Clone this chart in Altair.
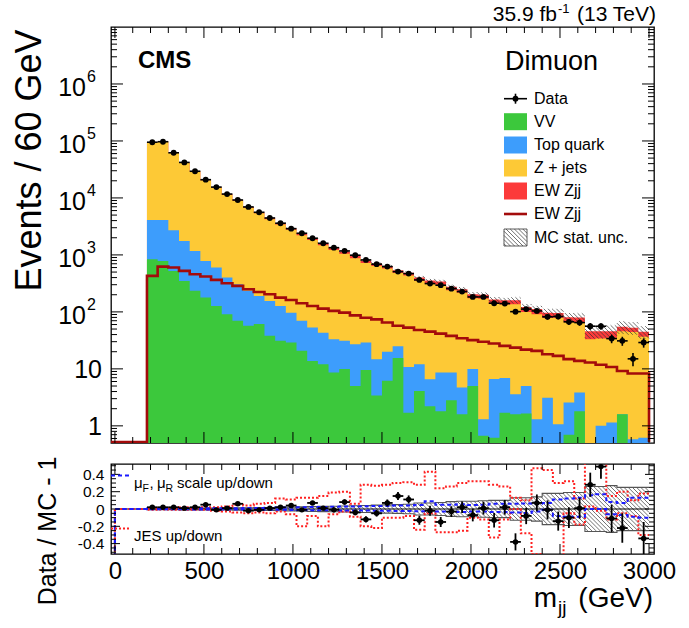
import math
import altair as alt
import pandas as pd

FONT = "Liberation Sans"

# ---------------- data ----------------
N = 47
bin_lo = [180 + 60 * i for i in range(N)]          # 60 GeV bins, 180 .. 3000 GeV

vv = [841, 785, 524, 350, 234, 178, 127, 91, 70, 57,
      61, 38, 31, 29, 20.7, 13.8, 12.1, 8.6, 9.9, 5.0,
      9.6, 3.4, 6.2, 15.5, 1.7, 4.1, 2.2, 1.8, 2.8, 1.6,
      5.0, 0.67, 0.62, 1.7, 1.6, 1.65, 0, 0, 0, 0.7,
      1.8, 0, 0, 0, 1.6, 0, 0]
top = [3270, 3325, 2186, 1410, 941, 607, 473, 309, 236, 177,
       130, 118, 96, 68, 49.3, 39.2, 30.9, 24.4, 21.1, 22,
       19.4, 11.4, 13.7, 9.5, 9.1, 8.0, 4.4, 6.8, 5.8, 3.1,
       4.9, 0.64, 6.0, 5.2, 2.0, 3.35, 1.31, 3.1, 1.07, 1.86,
       2.04, 0, 1.0, 1.14, 0, 0.58, 0.62]
zjets = [91500, 92300, 58700, 39700, 27800, 19700, 14500, 11000, 8610, 6470,
         5190, 4090, 3300, 2670, 2150, 1780, 1440, 1190, 1020, 846,
         692, 621, 555, 458, 424, 340, 303, 290, 230, 211,
         163, 169, 131, 128, 133, 95, 90, 75, 78, 63,
         62, 33, 33, 34, 44, 44, 36]
ewk = [428, 623, 600, 524, 458, 417, 364, 318, 286, 250,
       224, 204, 178, 162, 142, 127, 114, 104, 97, 87,
       79, 74, 65, 57, 53, 48, 45, 41.6, 38, 34.5,
       31.9, 30, 27.8, 25.3, 23.6, 21.8, 20.7, 18.1, 16.9, 14.8,
       13.8, 12.9, 11.8, 10.8, 9.2, 8.3, 8.3]
data = [95000, 97000, 62000, 42000, 29400, 20900, 15500, 11700, 9200, 6950,
        5600, 4450, 3600, 2890, 2400, 1960, 1600, 1340, 1175, 988,
        817, 687, 623, 509, 470, 364, 314, 294, 256, 227,
        183, 183, 142, 140, 101, 112, 104, 82, 83, 67,
        65, 56, 56, 34, 31, 15, 29]
data_err = [308, 311, 249, 205, 171, 145, 124, 108, 96, 83,
            75, 67, 60, 54, 49, 44, 40, 37, 34, 31,
            29, 26, 25, 23, 22, 19, 18, 17, 16, 15,
            14, 14, 12, 12, 10, 11, 10, 9, 9, 8,
            8, 7.5, 7.5, 5.8, 5.6, 3.9, 5.4]
ratio = [0.02, 0.02, 0.02, 0.01, 0.02, 0.05, -0.01, 0.01, 0.06, -0.02,
         -0.01, 0.01, 0.02, 0.04, -0.01, 0.07, 0.01, -0.01, 0.08, -0.04,
         -0.12, -0.05, 0.07, 0.15, 0.11, -0.13, -0.02, -0.15, -0.03, 0.02,
         -0.07, 0.01, -0.13, 0.02, -0.38, -0.08, 0.07, -0.01, -0.14, -0.10,
         0.01, 0.28, 0.49, -0.11, -0.22, None, -0.34]
ratio_err = [0.004, 0.004, 0.005, 0.005, 0.006, 0.007, 0.008, 0.009, 0.011, 0.012,
             0.014, 0.016, 0.017, 0.019, 0.021, 0.023, 0.025, 0.028, 0.03, 0.032,
             0.035, 0.038, 0.04, 0.045, 0.047, 0.052, 0.057, 0.058, 0.062, 0.066,
             0.073, 0.074, 0.084, 0.085, 0.099, 0.095, 0.098, 0.11, 0.11, 0.12,
             0.12, 0.14, 0.14, 0.16, 0.17, 0.2, 0.19]
mc_rel = [0.008, 0.008, 0.008, 0.01, 0.01, 0.01, 0.012, 0.012, 0.014, 0.015,
          0.017, 0.018, 0.02, 0.022, 0.025, 0.027, 0.03, 0.032, 0.035, 0.038,
          0.04, 0.045, 0.048, 0.05, 0.055, 0.07, 0.07, 0.075, 0.085, 0.09,
          0.09, 0.095, 0.1, 0.1, 0.13, 0.13, 0.14, 0.18, 0.18, 0.19,
          0.19, 0.26, 0.26, 0.27, 0.25, 0.25, 0.25]
scale_up = [0.005, 0.005, 0.006, 0.006, 0.007, 0.008, 0.009, 0.01, 0.01, 0.012,
            0.013, 0.015, 0.016, 0.018, 0.02, 0.022, 0.024, 0.026, 0.028, 0.03,
            0.032, 0.035, 0.035, 0.04, 0.04, 0.045, 0.09, 0.05, 0.05, 0.055,
            0.045, 0.05, 0.06, 0.06, 0.06, 0.065, 0.06, 0.07, 0.11, 0.12,
            0.13, 0.16, 0.17, 0.08, 0.07, 0.13, 0.13]
scale_dn = [-0.003, -0.003, -0.004, -0.004, -0.005, -0.005, -0.006, -0.006, -0.007, -0.008,
            -0.008, -0.009, -0.01, -0.011, -0.012, -0.013, -0.014, -0.015, -0.016, -0.017,
            -0.018, -0.02, -0.02, -0.022, -0.022, -0.025, -0.03, -0.03, -0.03, -0.035,
            -0.03, -0.03, -0.035, -0.035, -0.04, -0.045, -0.03, -0.01, -0.08, -0.09,
            -0.09, 0.0, 0.0, -0.06, -0.07, -0.09, -0.1]
jes_up = [0.01, 0.01, 0.01, 0.02, 0.01, 0.02, 0.02, 0.03, 0.05, 0.04,
          0.06, 0.07, 0.12, 0.11, 0.13, 0.13, 0.15, 0.19, 0.2, 0.06,
          0.28, 0.27, 0.28, 0.3, 0.31, 0.28, 0.43, 0.24, 0.26, 0.3,
          0.32, 0.32, 0.28, 0.26, 0.13, 0.1, 0.47, 0.45, 0.3, 0.32,
          0.12, 0.55, 0.55, 0.15, 0.2, 0.1, 0.18]
jes_dn = [-0.01, -0.005, -0.01, -0.01, -0.01, -0.01, -0.02, -0.03, -0.04, -0.05,
          -0.04, -0.05, -0.03, -0.06, -0.2, -0.08, -0.2, -0.06, -0.03, -0.09,
          -0.2, -0.22, -0.1, -0.1, -0.08, -0.24, -0.05, -0.27, -0.27, -0.25,
          -0.1, -0.12, -0.33, -0.12, 0.0, -0.28, -0.52, -0.55, -0.55, -0.05,
          -0.18, 0.03, -0.02, -0.12, -0.05, -0.08, -0.3]

x_major = [0, 500, 1000, 1500, 2000, 2500, 3000]
y_major = [1, 10, 100, 1000, 10000, 100000, 1000000]
y_base = ["1", "10", "10", "10", "10", "10", "10"]
y_exp = ["", "", "2", "3", "4", "5", "6"]
r_major = [-0.4, -0.2, 0.0, 0.2, 0.4]

# ---------------- geometry / colours ----------------
W, H1, H2 = 543, 416, 90
XMIN, XMAX = -22.0, 3028.0
YMIN, YMAX = 0.5, 1.0e7
RMIN, RMAX = -0.52, 0.52
LMIN, LMAX = math.log10(YMIN), math.log10(YMAX)
BW = 60
XEND = bin_lo[-1] + BW
TINY = 1e-3   # empty bins / stack base: below the axis floor, clipped away

C_VV, C_TOP, C_Z, C_EW, C_LINE = "#3cc83c", "#3d9dfc", "#fdc936", "#fc3a3a", "#a30b0b"

XS = alt.Scale(domain=[XMIN, XMAX], nice=False, zero=False)
YS = alt.Scale(type="log", domain=[YMIN, YMAX], nice=False)
RS = alt.Scale(domain=[RMIN, RMAX], nice=False, zero=False)

XAX_LOW = alt.Axis(values=x_major, format="d", labelFontSize=24, labelPadding=5, ticks=False,
                   domain=False, grid=False, title=None, labelFont=FONT, labelColor="black",
                   labelFlush=False)
RAX = alt.Axis(values=r_major,
               labelExpr="datum.value == 0 ? '0' : (datum.value < 0 ? '-' : '') + format(abs(datum.value), '.1f')",
               labelFontSize=15.5, labelPadding=7, ticks=False, domain=False, grid=False,
               title=None, labelFont=FONT, labelColor="black", labelFlush=False)


def u_of(x):
    return (x - XMIN) * W / (XMAX - XMIN)


def x_of(u):
    return XMIN + u * (XMAX - XMIN) / W


def vlog_of(y):
    return (math.log10(y) - LMIN) * H1 / (LMAX - LMIN)


def ylog_of(v):
    return 10 ** (LMIN + v * (LMAX - LMIN) / H1)


def vr_of(r):
    return (r - RMIN) * H2 / (RMAX - RMIN)


def r_of(v):
    return RMIN + v * (RMAX - RMIN) / H2


def hatch(rects, s=4.2):
    segs = []
    for (u0, u1, v0, v1) in rects:
        if v1 - v0 < 0.6:
            continue
        c = math.ceil((u0 + v0) / s) * s
        while c < u1 + v1:
            us = max(u0, c - v1)
            ue = min(u1, c - v0)
            if ue > us + 0.2:
                segs.append((us, c - us, ue, c - ue))
            c += s
    return segs


ONE = pd.DataFrame({"a": [0]})


def txt(text, x, y, size, align="left", baseline="alphabetic", bold=False, angle=0):
    kw = dict(text=text, align=align, baseline=baseline, fontSize=size, font=FONT,
              fontWeight="bold" if bold else "normal", color="black")
    if angle:
        kw["angle"] = angle
    return alt.Chart(ONE).mark_text(**kw).encode(x=alt.value(x), y=alt.value(y))


# ---------------- tables ----------------
rows = []
cum = {"c1": [], "c2": [], "c3": [], "c4": []}
for i in range(N):
    c1 = vv[i]
    c2 = c1 + top[i]
    c3 = c2 + zjets[i]
    c4 = c3 + ewk[i]
    for k, v in zip(["c1", "c2", "c3", "c4"], [c1, c2, c3, c4]):
        cum[k].append(v)
    rows.append(dict(lo=bin_lo[i], hi=bin_lo[i] + BW, c=bin_lo[i] + BW / 2,
                     c4=c4, data=data[i],
                     dlo=max(data[i] - data_err[i], 0.01), dhi=data[i] + data_err[i],
                     r=ratio[i], rlo=(ratio[i] - ratio_err[i]) if ratio[i] is not None else None,
                     rhi=(ratio[i] + ratio_err[i]) if ratio[i] is not None else None))
df = pd.DataFrame(rows)
df_r = df[df["r"].notna()].copy()

# ---------------- upper panel ----------------
up = []


def stack_area(col, color):
    vals = [v if v > 0 else TINY for v in cum[col]]
    d = pd.DataFrame({"x": bin_lo + [XEND], "y": vals + [vals[-1]],
                      "base": [TINY] * (N + 1)})
    return alt.Chart(d).mark_area(interpolate="step-after", color=color, opacity=1, clip=True).encode(
        x=alt.X("x:Q", scale=XS, axis=None),
        y=alt.Y("y:Q", scale=YS, axis=None), y2="base:Q")


up += [stack_area("c4", C_EW), stack_area("c3", C_Z), stack_area("c2", C_TOP), stack_area("c1", C_VV)]

# MC stat hatch on top of the stack + legend box hatch
rects = [(u_of(bin_lo[i]), u_of(bin_lo[i] + BW),
          vlog_of(cum["c4"][i] * (1 - mc_rel[i])), vlog_of(cum["c4"][i] * (1 + mc_rel[i])))
         for i in range(N)]
LX0, LX1 = 393, 416
leg_y = [71.7, 94.7, 118, 141, 164, 187, 210.5]
rects.append((LX0, LX1, H1 - (leg_y[6] + 8.5), H1 - (leg_y[6] - 8.5)))
hs = hatch(rects)
df_h = pd.DataFrame([dict(x1=x_of(a), y1=ylog_of(b), x2=x_of(c), y2=ylog_of(d)) for a, b, c, d in hs])
up.append(alt.Chart(df_h).mark_rule(color="#333333", strokeWidth=0.7, clip=True).encode(
    x=alt.X("x1:Q", scale=XS, axis=None), x2="x2:Q",
    y=alt.Y("y1:Q", scale=YS, axis=None), y2="y2:Q"))

# EW Zjj line
floor = YMIN * 1.04
pts = [(XMIN, floor)] + [(bin_lo[i], ewk[i]) for i in range(N)] + [(XEND, floor)]
df_ew = pd.DataFrame(pts, columns=["x", "y"])
up.append(alt.Chart(df_ew).mark_line(interpolate="step-after", color=C_LINE, strokeWidth=2.6,
                                     clip=True).encode(
    x=alt.X("x:Q", scale=XS, axis=None), y=alt.Y("y:Q", scale=YS, axis=None)))

# data
up.append(alt.Chart(df).mark_rule(color="black", strokeWidth=1.6, clip=True).encode(
    x=alt.X("lo:Q", scale=XS, axis=None), x2="hi:Q", y=alt.Y("data:Q", scale=YS, axis=None)))
up.append(alt.Chart(df).mark_rule(color="black", strokeWidth=1.6, clip=True).encode(
    x=alt.X("c:Q", scale=XS, axis=None), y=alt.Y("dlo:Q", scale=YS, axis=None), y2="dhi:Q"))
up.append(alt.Chart(df).mark_circle(color="black", opacity=1, size=34, clip=True).encode(
    x=alt.X("c:Q", scale=XS, axis=None), y=alt.Y("data:Q", scale=YS, axis=None)))

# ticks
x_minor = [v for v in range(0, 3001, 100) if v % 500]
y_minor = [k * 10 ** e for e in range(-1, 7) for k in range(2, 10) if YMIN < k * 10 ** e < YMAX]


def xticks(vals, length, H, at_top, axis):
    d = pd.DataFrame({"v": vals})
    return alt.Chart(d).mark_rule(color="black", strokeWidth=1).encode(
        x=alt.X("v:Q", scale=XS, axis=axis),
        y=alt.value(0 if at_top else H), y2=alt.value(length if at_top else H - length))


def yticks(vals, scale, length, right, axis):
    d = pd.DataFrame({"v": vals})
    return alt.Chart(d).mark_rule(color="black", strokeWidth=1).encode(
        y=alt.Y("v:Q", scale=scale, axis=axis),
        x=alt.value(W if right else 0), x2=alt.value(W - length if right else length))


for at_top in (True, False):
    up.append(xticks(x_major, 11, H1, at_top, None))
    up.append(xticks(x_minor, 6, H1, at_top, None))
for right in (False, True):
    up.append(yticks(y_major, YS, 12, right, None))
    up.append(yticks(y_minor, YS, 6, right, None))

# y labels with superscripts
df_yl = pd.DataFrame({"v": y_major, "base": y_base, "exp": y_exp})
up.append(alt.Chart(df_yl).transform_filter("datum.v >= 100").mark_text(
    align="right", baseline="middle", dy=4, fontSize=25, font=FONT, color="black").encode(
    x=alt.value(-25), y=alt.Y("v:Q", scale=YS, axis=None), text="base:N"))
up.append(alt.Chart(df_yl).transform_filter("datum.v >= 100").mark_text(
    align="left", baseline="middle", dy=-7, fontSize=16, font=FONT, color="black").encode(
    x=alt.value(-24), y=alt.Y("v:Q", scale=YS, axis=None), text="exp:N"))
up.append(alt.Chart(df_yl).transform_filter("datum.v < 100").mark_text(
    align="right", baseline="middle", dy=1, fontSize=25, font=FONT, color="black").encode(
    x=alt.value(-9), y=alt.Y("v:Q", scale=YS, axis=None), text="base:N"))

# legend
LXC = (LX0 + LX1) / 2
up.append(alt.Chart(ONE).mark_rule(color="black", strokeWidth=1.6).encode(
    x=alt.value(LX0), x2=alt.value(LX1), y=alt.value(leg_y[0])))
up.append(alt.Chart(ONE).mark_rule(color="black", strokeWidth=1.6).encode(
    x=alt.value(LXC), y=alt.value(leg_y[0] - 5), y2=alt.value(leg_y[0] + 5)))
up.append(alt.Chart(ONE).mark_circle(color="black", opacity=1, size=34).encode(
    x=alt.value(LXC), y=alt.value(leg_y[0])))
for k, col in zip([1, 2, 3, 4], [C_VV, C_TOP, C_Z, C_EW]):
    up.append(alt.Chart(ONE).mark_rect(color=col).encode(
        x=alt.value(LX0), x2=alt.value(LX1), y=alt.value(leg_y[k] - 8.5), y2=alt.value(leg_y[k] + 8.5)))
up.append(alt.Chart(ONE).mark_rule(color=C_LINE, strokeWidth=2.6).encode(
    x=alt.value(LX0), x2=alt.value(LX1), y=alt.value(leg_y[5])))
up.append(alt.Chart(ONE).mark_rect(fillOpacity=0, stroke="#333333", strokeWidth=0.8).encode(
    x=alt.value(LX0), x2=alt.value(LX1), y=alt.value(leg_y[6] - 8.5), y2=alt.value(leg_y[6] + 8.5)))
for k, name in enumerate(["Data", "VV", "Top quark", "Z + jets", "EW Zjj", "EW Zjj", "MC stat. unc."]):
    up.append(txt(name, 423, leg_y[k], 16, baseline="middle"))

# texts
up.append(txt("CMS", 27, 41, 24, bold=True))
up.append(txt("Dimuon", 487, 43, 27, align="right"))
up.append(txt("35.9 fb", 446, -6, 21, align="right"))
up.append(txt("-1", 447, -14, 13))
up.append(txt("(13 TeV)", 545, -6, 21, align="right"))
up.append(txt("Events / 60 GeV", -81.5, 133.5, 36, align="center", baseline="middle", angle=270))

upper = alt.layer(*up).properties(width=W, height=H1)

# ---------------- lower panel ----------------
lo_l = []

# MC stat band: hatch + outline
rr = [(u_of(bin_lo[i]), u_of(bin_lo[i] + BW), vr_of(-mc_rel[i]), vr_of(mc_rel[i])) for i in range(N)]
hs2 = hatch(rr)
df_h2 = pd.DataFrame([dict(x1=x_of(a), y1=r_of(b), x2=x_of(c), y2=r_of(d)) for a, b, c, d in hs2])
lo_l.append(alt.Chart(df_h2).mark_rule(color="#333333", strokeWidth=0.7, clip=True).encode(
    x=alt.X("x1:Q", scale=XS, axis=XAX_LOW), x2="x2:Q",
    y=alt.Y("y1:Q", scale=RS, axis=RAX), y2="y2:Q"))

band = []
for sign, key in ((1, "u"), (-1, "d")):
    band += [dict(k=key, x=bin_lo[i], y=sign * mc_rel[i]) for i in range(N)]
    band.append(dict(k=key, x=XEND, y=sign * mc_rel[-1]))
lo_l.append(alt.Chart(pd.DataFrame(band)).mark_line(interpolate="step-after", color="#555555",
                                                    strokeWidth=1.1, clip=True).encode(
    x=alt.X("x:Q", scale=XS, axis=XAX_LOW), y=alt.Y("y:Q", scale=RS, axis=RAX), detail="k:N"))

# zero line
lo_l.append(alt.Chart(pd.DataFrame({"x1": [0], "x2": [XEND], "y": [0.0]})).mark_rule(
    color="black", strokeWidth=1.2).encode(
    x=alt.X("x1:Q", scale=XS, axis=XAX_LOW), x2="x2:Q", y=alt.Y("y:Q", scale=RS, axis=RAX)))


def syst(up_v, dn_v):
    out = []
    for key, vals in (("u", up_v), ("d", dn_v)):
        out += [dict(k=key, x=XMIN, y=-1.0), dict(k=key, x=0, y=0.0)]
        out += [dict(k=key, x=bin_lo[i], y=vals[i]) for i in range(N)]
        out.append(dict(k=key, x=XEND, y=vals[-1]))
    return pd.DataFrame(out)


lo_l.append(alt.Chart(syst(jes_up, jes_dn)).mark_line(
    interpolate="step-after", color="#ff2020", strokeWidth=2, strokeDash=[2, 2], clip=True).encode(
    x=alt.X("x:Q", scale=XS, axis=XAX_LOW), y=alt.Y("y:Q", scale=RS, axis=RAX), detail="k:N"))
lo_l.append(alt.Chart(syst(scale_up, scale_dn)).mark_line(
    interpolate="step-after", color="#1a1aff", strokeWidth=2, strokeDash=[4, 3], clip=True).encode(
    x=alt.X("x:Q", scale=XS, axis=XAX_LOW), y=alt.Y("y:Q", scale=RS, axis=RAX), detail="k:N"))

# ratio data
lo_l.append(alt.Chart(df_r).mark_rule(color="black", strokeWidth=1.8, clip=True).encode(
    x=alt.X("lo:Q", scale=XS, axis=XAX_LOW), x2="hi:Q", y=alt.Y("r:Q", scale=RS, axis=RAX)))
lo_l.append(alt.Chart(df_r).mark_rule(color="black", strokeWidth=1.8, clip=True).encode(
    x=alt.X("c:Q", scale=XS, axis=XAX_LOW), y=alt.Y("rlo:Q", scale=RS, axis=RAX), y2="rhi:Q"))
lo_l.append(alt.Chart(df_r).mark_circle(color="black", opacity=1, size=30, clip=True).encode(
    x=alt.X("c:Q", scale=XS, axis=XAX_LOW), y=alt.Y("r:Q", scale=RS, axis=RAX)))

# ticks
r_minor = [round(-0.5 + 0.05 * k, 2) for k in range(21) if round(-0.5 + 0.05 * k, 2) not in r_major]
for at_top in (True, False):
    lo_l.append(xticks(x_major, 10, H2, at_top, XAX_LOW))
    lo_l.append(xticks(x_minor, 6, H2, at_top, XAX_LOW))
for right in (False, True):
    lo_l.append(yticks(r_major, RS, 9, right, RAX))
    lo_l.append(yticks(r_minor, RS, 5, right, RAX))

# legend inside the ratio panel
lo_l.append(alt.Chart(ONE).mark_rule(color="#1a1aff", strokeWidth=2, strokeDash=[4, 3]).encode(
    x=alt.value(0), x2=alt.value(20), y=alt.value(11.6)))
lo_l.append(alt.Chart(ONE).mark_rule(color="#ff2020", strokeWidth=2, strokeDash=[2, 2]).encode(
    x=alt.value(0), x2=alt.value(20), y=alt.value(64.6)))
lo_l += [txt("μ", 23, 24, 15), txt("F", 31.5, 28, 10.5), txt(",", 38.5, 24, 15),
         txt("μ", 46, 24, 15), txt("R", 54.5, 28, 10.5), txt("scale up/down", 66, 24, 15),
         txt("JES up/down", 23, 77, 15)]

# axis titles
lo_l.append(txt("Data / MC - 1", -63.5, 67, 25, align="center", baseline="middle", angle=270))
lo_l.append(txt("m", 446, 143, 28, align="right"))
lo_l.append(txt("jj", 447, 150, 19))
lo_l.append(txt("(GeV)", 542, 143, 28, align="right"))

lower = alt.layer(*lo_l).properties(width=W, height=H2)

chart = alt.vconcat(upper, lower, spacing=11).properties(
    padding={"left": 10, "top": 2, "right": 5, "bottom": 5},
    background="white",
).configure_view(stroke="black", strokeWidth=1.3)

chart.save("out.html", embed_options={"renderer": "svg", "actions": False})
